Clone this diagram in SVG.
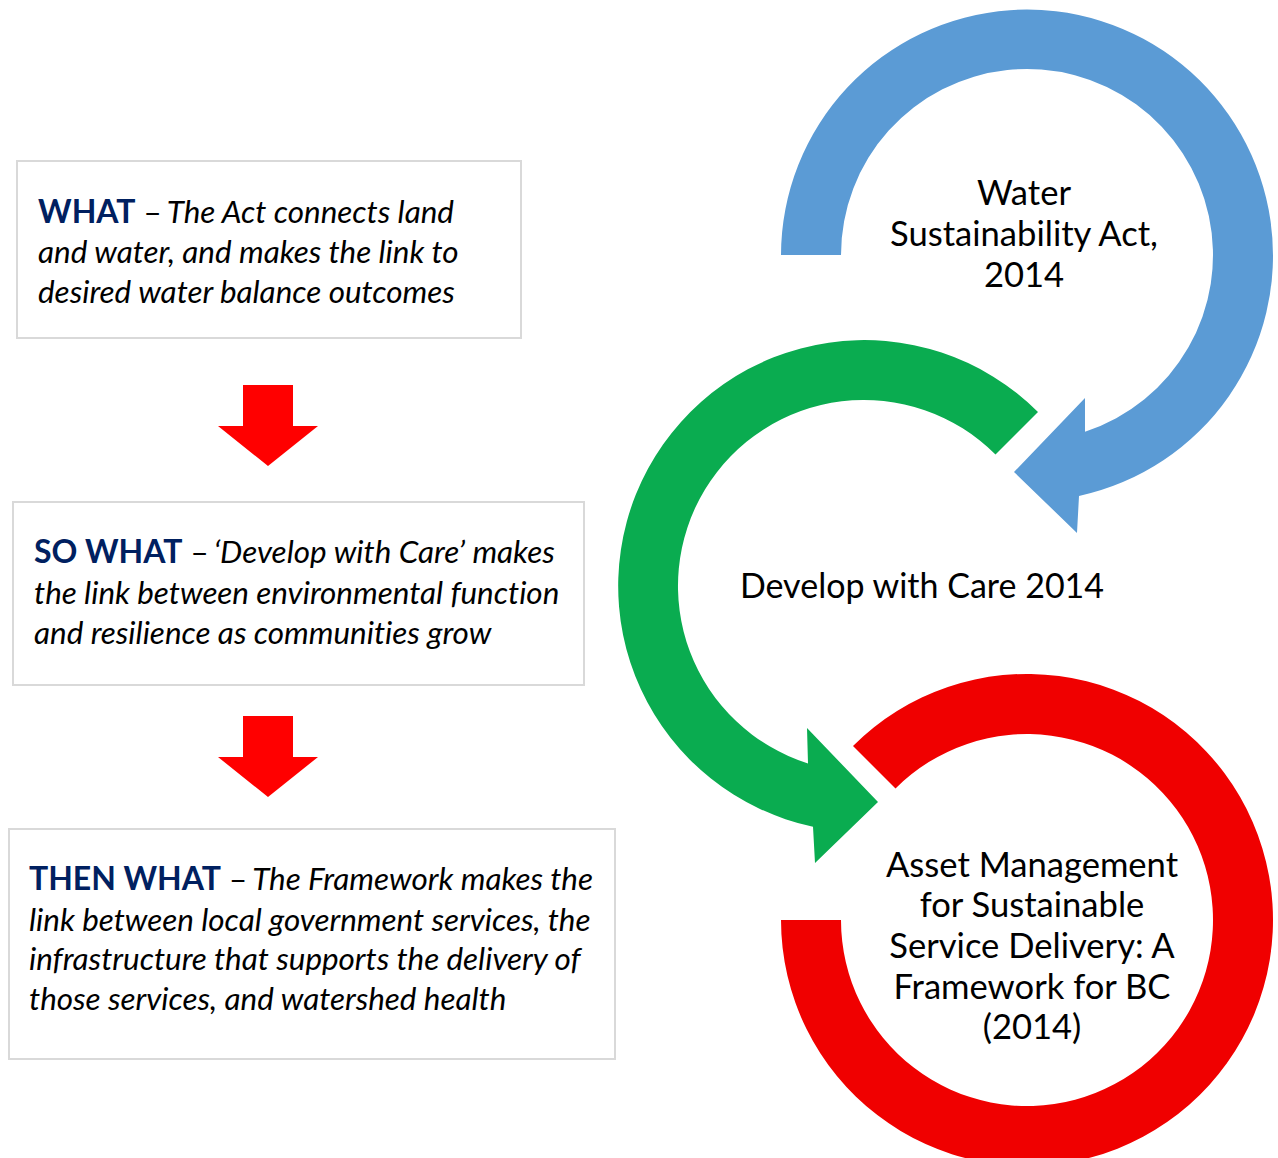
<svg xmlns="http://www.w3.org/2000/svg" width="1278" height="1158" viewBox="0 0 1278 1158">
<style>
.box{fill:#ffffff;stroke:#d9d9d9;stroke-width:2}
.t{font-family:Lato,"Noto Sans",sans-serif;fill:#000000;font-variant-ligatures:none}
.it{font-style:italic;font-size:31.4px}
.dash{font-size:31.4px}
.hd{font-weight:bold;font-size:32px;fill:#002060}
.lbl{font-family:Lato,"Noto Sans",sans-serif;font-size:34.6px;fill:#000000;text-anchor:middle;font-variant-ligatures:none}
.down{fill:#ff0000}
</style>
<rect width="1278" height="1158" fill="#ffffff"/>
<g id="node-water-act">
<path fill="#5b9bd5" d="M781,255 A246,246 0 1 1 1079,496 L1077,533 L1014,472 L1085,398 L1085,431.7 A186,186 0 1 0 841,255 Z"/>
<text class="lbl" x="1024" y="205">Water</text>
<text class="lbl" x="1024" y="246">Sustainability Act,</text>
<text class="lbl" x="1024" y="287">2014</text>
</g>
<g id="node-develop-with-care">
<path fill="#0aac50" d="M1038,412 A246,246 0 1 0 813,826.7 L815,863 L878,802 L807,728 L808,763.4 A186,186 0 1 1 995.5,454.5 Z"/>
<text class="lbl" x="922" y="598" style="font-size:34px">Develop with Care 2014</text>
</g>
<g id="node-asset-management">
<path fill="#f00000" d="M853,746 A246,246 0 1 1 781,920 L841,920 A186,186 0 1 0 895.5,788.5 Z"/>
<text class="lbl" x="1032" y="877">Asset Management</text>
<text class="lbl" x="1032" y="917">for Sustainable</text>
<text class="lbl" x="1032" y="958">Service Delivery: A</text>
<text class="lbl" x="1032" y="999">Framework for BC</text>
<text class="lbl" x="1032" y="1039">(2014)</text>
</g>
<g id="node-what">
<rect class="box" x="17" y="161" width="504" height="177"/>
<text class="t" x="38" y="223"><tspan class="hd">WHAT</tspan><tspan class="dash"> – </tspan><tspan class="it" dx="-3">The Act connects land</tspan></text>
<text class="t it" x="38" y="263">and water, and makes the link to</text>
<text class="t it" x="38" y="303">desired water balance outcomes</text>
</g>
<g id="node-so-what">
<rect class="box" x="13" y="502" width="571" height="183"/>
<text class="t" x="34" y="563"><tspan class="hd">SO WHAT</tspan><tspan class="dash"> – </tspan><tspan class="it" dx="-3">‘Develop with Care’ makes</tspan></text>
<text class="t it" x="34" y="604">the link between environmental function</text>
<text class="t it" x="34" y="644">and resilience as communities grow</text>
</g>
<g id="node-then-what">
<rect class="box" x="9" y="829" width="606" height="230"/>
<text class="t" x="29" y="890"><tspan class="hd">THEN WHAT</tspan><tspan class="dash"> – </tspan><tspan class="it" dx="-3">The Framework makes the</tspan></text>
<text class="t it" x="29" y="931">link between local government services, the</text>
<text class="t it" x="29" y="970">infrastructure that supports the delivery of</text>
<text class="t it" x="29" y="1010">those services, and watershed health</text>
</g>
<g id="connectors">
<polygon class="down" points="243,385 293,385 293,426 318,426 268,466 218,426 243,426"/>
<polygon class="down" points="243,716 293,716 293,757 318,757 268,797 218,757 243,757"/>
</g>
</svg>
